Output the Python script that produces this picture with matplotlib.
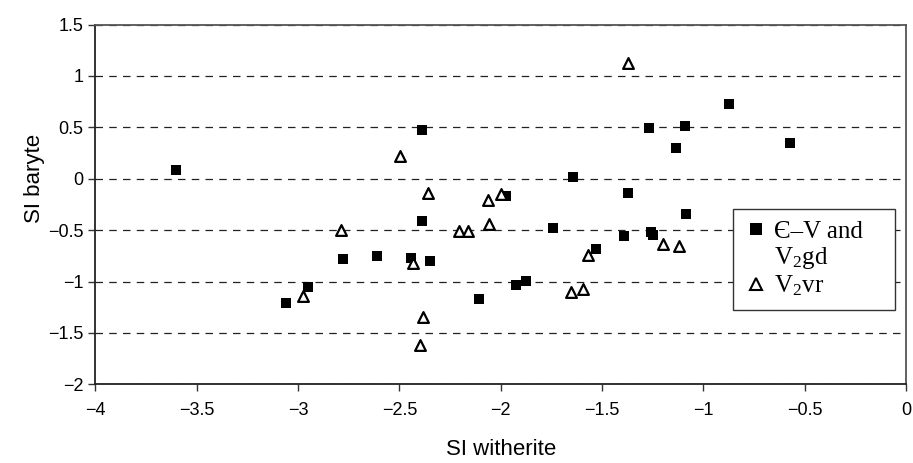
import matplotlib.pyplot as plt
from matplotlib.lines import Line2D

# SI values
sq_x = [-3.60, -3.06, -2.39, -1.975, -2.39, -2.78, -2.61, -2.445, -2.35, -2.95,
        -2.105, -1.925, -1.27, -1.09, -1.135, -1.645, -1.37, -1.085, -1.74, -1.39,
        -1.26, -1.25, -1.53, -1.875, -0.875, -0.575]
sq_y = [0.08, -1.21, 0.47, -0.165, -0.41, -0.78, -0.75, -0.77, -0.80, -1.05,
        -1.17, -1.03, 0.49, 0.51, 0.30, 0.02, -0.135, -0.34, -0.48, -0.56,
        -0.52, -0.55, -0.685, -0.995, 0.73, 0.35]
tri_x = [-2.495, -2.36, -2.065, -2.0, -2.79, -2.205, -2.16, -2.06, -2.435, -2.975,
         -2.385, -2.40, -1.37, -1.20, -1.12, -1.57, -1.655, -1.595]
tri_y = [0.22, -0.14, -0.205, -0.15, -0.50, -0.505, -0.505, -0.44, -0.82, -1.14,
         -1.35, -1.62, 1.13, -0.635, -0.65, -0.74, -1.105, -1.07]
xticks = [-4, -3.5, -3, -2.5, -2, -1.5, -1, -0.5, 0]
yticks = [-2, -1.5, -1, -0.5, 0, 0.5, 1, 1.5]
legend_labels = ['Є–V and', 'V$_2$gd', 'V$_2$vr']

plt.rcParams['font.family'] = ['Liberation Sans', 'DejaVu Sans']
plt.rcParams['mathtext.fontset'] = 'custom'
plt.rcParams['mathtext.rm'] = 'Liberation Serif'
plt.rcParams['mathtext.it'] = 'Liberation Serif'
plt.rcParams['mathtext.default'] = 'regular'

def fmt(v):
    return ('%g' % v).replace('-', '\u2212')

fig = plt.figure(figsize=(9.13, 4.63), dpi=100)
ax = fig.add_axes([0.1044, 0.170, 0.8881, 0.777])

ax.scatter(sq_x, sq_y, marker='s', s=60, c='black', linewidths=0, zorder=3)
ax.scatter(tri_x, tri_y, marker='^', s=60, facecolors='white', edgecolors='black',
           linewidths=1.6, zorder=3)

ax.set_xlim(-4, 0)
ax.set_ylim(-2, 1.5)
ax.set_xticks(xticks)
ax.set_xticklabels([fmt(v) for v in xticks])
ax.set_yticks(yticks)
ax.set_yticklabels([fmt(v) for v in yticks])
ax.tick_params(labelsize=13, length=5, width=1, color='#333333')
ax.tick_params(axis='x', pad=8)
ax.yaxis.grid(True, linestyle=(0, (6, 5)), color='#222222', linewidth=0.9)
for s in ax.spines.values():
    s.set_color('#555555')
    s.set_linewidth(1.3)
ax.spines['left'].set_color('#222222')
ax.spines['bottom'].set_color('#222222')

ax.set_xlabel('SI witherite', fontsize=16, labelpad=14)
ax.set_ylabel('SI baryte', fontsize=16)
ax.yaxis.set_label_coords(-0.062, 0.571)

# legend: the square sits on the first line of its two-line label
blank = Line2D([], [], linestyle='none', marker='none')
h_sq = Line2D([], [], linestyle='none', marker='s', markersize=8, color='black',
              markeredgewidth=0)
h_tri = Line2D([], [], linestyle='none', marker='^', markersize=9, color='black',
               markerfacecolor='white', markeredgewidth=1.5)
leg = ax.legend([h_sq, blank, h_tri], legend_labels, loc='upper left',
                bbox_to_anchor=(0.7866, 0.2155, 0.1998, 0.2715), mode='expand',
                frameon=True, fancybox=False,
                edgecolor='#333333', handletextpad=0.3, handlelength=0.9,
                borderpad=0.45, labelspacing=0.1, borderaxespad=0,
                prop={'family': ['Liberation Serif', 'DejaVu Serif'], 'size': 18})
leg.get_frame().set_linewidth(1.0)
leg.get_frame().set_alpha(1)

fig.savefig('out.png', dpi=100)
